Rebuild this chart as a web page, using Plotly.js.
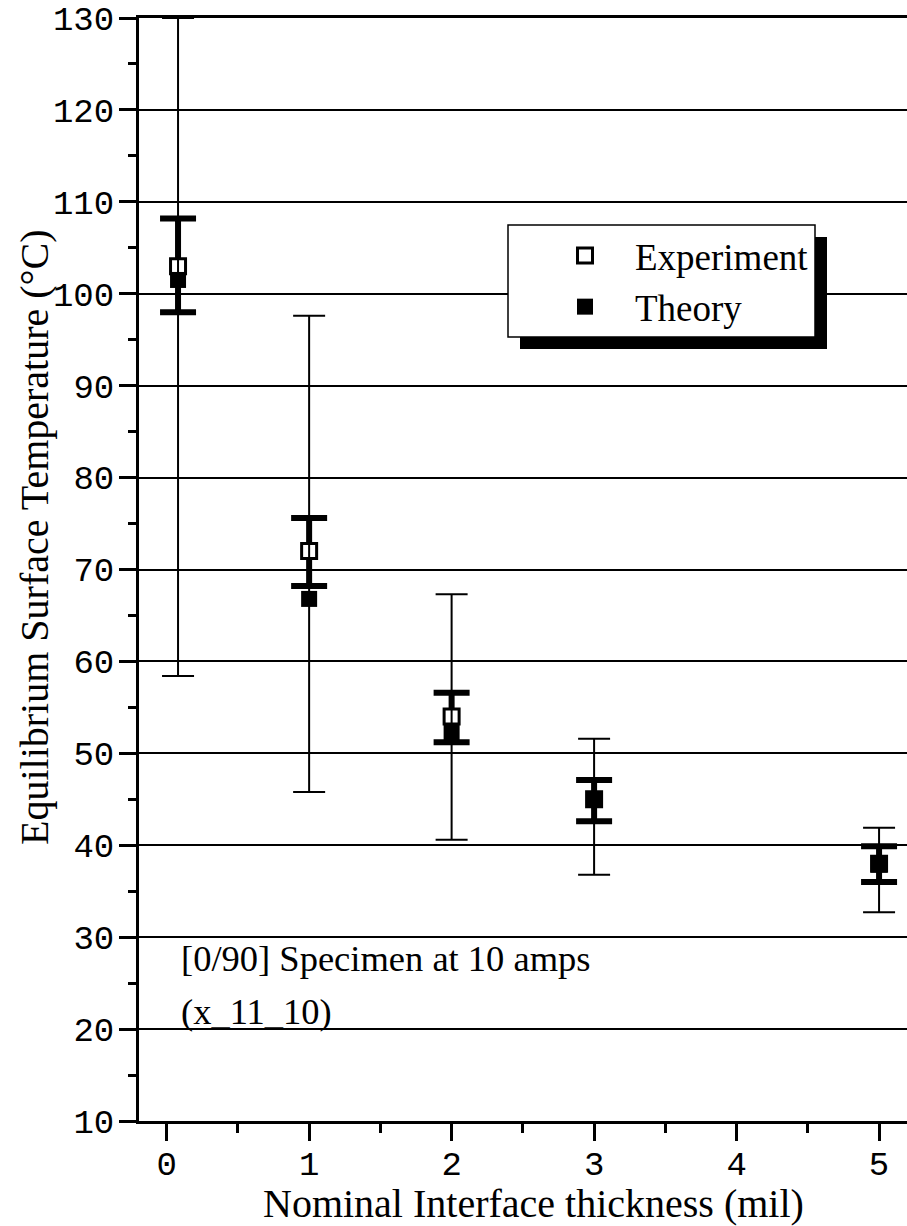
<!DOCTYPE html>
<html><head><meta charset="utf-8">
<script src="https://cdn.plot.ly/plotly-3.0.1.min.js"></script>
<style>html,body{margin:0;padding:0;background:#fff}#chart{width:907px;height:1226px}</style>
</head><body><div id="chart"></div>
<script>
// Data
const thicknessMil = [0.08, 1, 2, 3, 5];
const experiment = [103, 72, 54, 45, 38];
const theory = [101.5, 66.8, 52.3, 45, 37.9];
const expRangeHigh = [130, 97.6, 67.3, 51.6, 41.9];
const expRangeLow = [58.4, 45.8, 40.6, 36.8, 32.7];
const expBandHigh = [108.2, 75.6, 56.6, 47.1, 39.9];
const expBandLow = [98.0, 68.2, 51.2, 42.6, 36.0];
const xTickVals = [0, 1, 2, 3, 4, 5];
const yTickVals = [10, 20, 30, 40, 50, 60, 70, 80, 90, 100, 110, 120, 130];
const seriesNames = ['Experiment', 'Theory'];
const noteLines = ['[0/90] Specimen at 10 amps', '(x_11_10)'];
const xTitle = 'Nominal Interface thickness (mil)';
const yTitle = 'Equilibrium Surface Temperature (°C)';

const up = (hi) => hi.map((v, i) => +(v - experiment[i]).toFixed(3));
const down = (lo) => lo.map((v, i) => +(experiment[i] - v).toFixed(3));

const serif = 'Liberation Serif, Times New Roman, serif';
const mono = 'Liberation Mono, Courier New, monospace';

const traces = [
  { // thick bars
    x: thicknessMil, y: experiment, type: 'scatter', mode: 'markers',
    marker: {size: 1, color: 'rgba(0,0,0,0)'}, showlegend: false, hoverinfo: 'skip',
    error_y: {type: 'data', symmetric: false, array: up(expBandHigh), arrayminus: down(expBandLow),
      color: '#000', thickness: 6, width: 18}
  },
  { // experiment markers
    x: thicknessMil, y: experiment, type: 'scatter', mode: 'markers', name: seriesNames[0],
    legendgroup: 'a',
    marker: {symbol: 'square', size: 15, color: '#fff', line: {color: '#000', width: 3}}
  },
  { // thin bars
    x: thicknessMil, y: experiment, type: 'scatter', mode: 'markers',
    marker: {size: 1, color: 'rgba(0,0,0,0)'}, showlegend: false, hoverinfo: 'skip',
    error_y: {type: 'data', symmetric: false, array: up(expRangeHigh), arrayminus: down(expRangeLow),
      color: '#000', thickness: 2, width: 16}
  },
  { // theory
    x: thicknessMil, y: theory, type: 'scatter', mode: 'markers', name: seriesNames[1],
    legendgroup: 'b',
    marker: {symbol: 'square', size: 16, color: '#000'}
  }
];

const px = (p) => (p - 139) / 768;
const py = (p) => (1121 - p) / 1103;

const layout = {
  width: 907, height: 1226,
  margin: {l: 139, r: 0, t: 18, b: 105},
  paper_bgcolor: '#fff', plot_bgcolor: '#fff',
  showlegend: true,
  xaxis: {
    range: [-0.194, 5.196], tickvals: xTickVals, ticktext: xTickVals.map(String),
    showgrid: false, zeroline: false,
    showline: true, linecolor: '#000', linewidth: 3, mirror: true,
    ticks: 'outside', ticklen: 17, tickwidth: 3, tickcolor: '#000',
    minor: {dtick: 0.5, tick0: 0, ticks: 'outside', ticklen: 9, tickwidth: 3, tickcolor: '#000', showgrid: false},
    tickfont: {family: mono, size: 34, color: '#000'},
    ticklabelstandoff: -7,
    automargin: false, fixedrange: true
  },
  yaxis: {
    range: [10, 130], tickvals: yTickVals, ticktext: yTickVals.map(String),
    showgrid: true, gridcolor: '#000', gridwidth: 2, zeroline: false,
    showline: true, linecolor: '#000', linewidth: 3, mirror: false,
    ticks: 'outside', ticklen: 17, tickwidth: 3, tickcolor: '#000',
    minor: {dtick: 5, tick0: 0, ticks: 'outside', ticklen: 8, tickwidth: 3, tickcolor: '#000', showgrid: false},
    tickfont: {family: mono, size: 34, color: '#000'},
    ticklabelstandoff: -2,
    automargin: false, fixedrange: true
  },
  legend: {
    x: px(535), y: py(225), xanchor: 'left', yanchor: 'top',
    bgcolor: 'rgba(0,0,0,0)', borderwidth: 0, itemwidth: 90, tracegroupgap: 0,
    font: {family: serif, size: 37, color: '#000'}
  },
  shapes: [
    {type: 'rect', xref: 'paper', yref: 'paper', layer: 'above',
     x0: px(520), x1: px(827), y0: py(349), y1: py(237), fillcolor: '#000', line: {width: 0}},
    {type: 'rect', xref: 'paper', yref: 'paper', layer: 'above',
     x0: px(508), x1: px(815), y0: py(337), y1: py(225), fillcolor: '#fff', line: {color: '#000', width: 1.5}}
  ],
  annotations: [
    {text: noteLines[0], xref: 'paper', yref: 'paper', x: px(179), y: py(958), xanchor: 'left', yanchor: 'middle',
     showarrow: false, font: {family: serif, size: 36.5, color: '#000'}},
    {text: noteLines[1], xref: 'paper', yref: 'paper', x: px(179), y: py(1011), xanchor: 'left', yanchor: 'middle',
     showarrow: false, font: {family: serif, size: 36.5, color: '#000'}},
    {text: xTitle, xref: 'paper', yref: 'paper', x: px(533), y: py(1203), xanchor: 'center', yanchor: 'middle',
     showarrow: false, font: {family: serif, size: 40, color: '#000'}},
    {text: yTitle, xref: 'paper', yref: 'paper', x: px(34), y: py(537), xanchor: 'center', yanchor: 'middle',
     textangle: -90, showarrow: false, font: {family: serif, size: 40, color: '#000'}}
  ]
};

Plotly.newPlot('chart', traces, layout, {displayModeBar: false, staticPlot: true});
</script>
</body></html>
